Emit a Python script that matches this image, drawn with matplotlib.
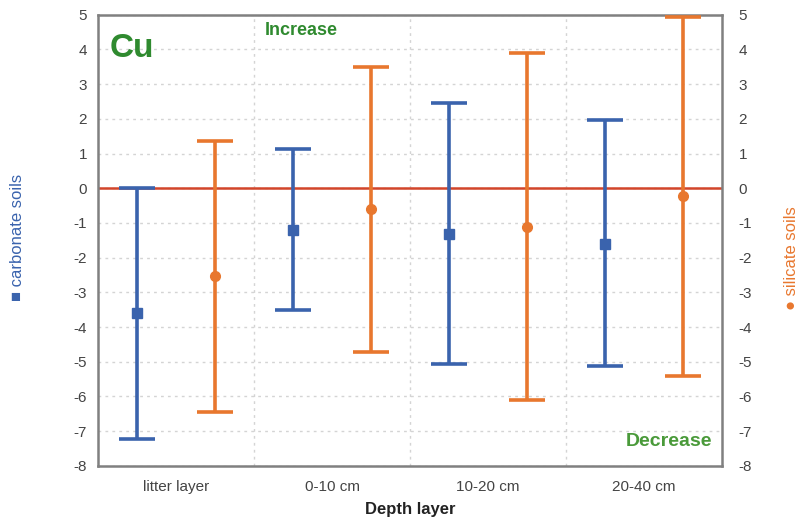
import numpy as np
import matplotlib.pyplot as plt

plt.rcParams['font.family'] = ['Liberation Sans Narrow', 'Liberation Sans', 'DejaVu Sans']

# === data ===
layers = ["litter layer", "0-10 cm", "10-20 cm", "20-40 cm"]

carb_mean = [-3.6, -1.2, -1.33, -1.6]
carb_low = [-7.24, -3.5, -5.05, -5.13]
carb_high = [0.0, 1.12, 2.45, 1.96]

sil_mean = [-2.53, -0.6, -1.12, -0.23]
sil_low = [-6.45, -4.72, -6.11, -5.4]
sil_high = [1.36, 3.49, 3.89, 4.93]

yticks = list(range(-8, 6))

blue = "#3a63ad"
orange = "#e8772e"
green = "#2f8a2f"
tick_col = "#444444"

fig = plt.figure(figsize=(8.04, 5.27), dpi=100)
ax = fig.add_axes([0.122, 0.116, 0.776, 0.856])

x = np.arange(len(layers)) + 0.5
off = 0.25

def draw(xs, mean, low, high, color, marker, ms):
    mean = np.array(mean)
    err = [mean - np.array(low), np.array(high) - mean]
    ax.errorbar(xs, mean, yerr=err, fmt=marker, color=color, ecolor=color,
                elinewidth=2.6, capsize=13, capthick=2.6, ms=ms, zorder=3)

draw(x - off, carb_mean, carb_low, carb_high, blue, "s", 7)
draw(x + off, sil_mean, sil_low, sil_high, orange, "o", 7)

ax.axhline(0, color="#d2452a", lw=1.8, zorder=2)

ax.set_xlim(0, 4)
ax.set_ylim(-8, 5)
ax.set_yticks(yticks)
ax.set_yticklabels([str(v) for v in yticks])
ax.set_xticks(x)
ax.set_xticklabels(layers)
ax.set_xticks([1, 2, 3], minor=True)
ax.tick_params(which="both", length=0)
ax.tick_params(axis="y", labelsize=11, colors=tick_col, pad=8)
ax.tick_params(axis="x", labelsize=11, colors=tick_col, pad=10)
ax.grid(axis="y", which="major", color="#d4d4d4", ls=(0, (2, 3)), lw=1)
ax.grid(axis="x", which="minor", color="#d4d4d4", ls=(0, (2, 3)), lw=1)
for s in ax.spines.values():
    s.set_color("#808080")
    s.set_linewidth(1.8)

ax2 = ax.twinx()
ax2.set_ylim(-8, 5)
ax2.set_yticks(yticks)
ax2.set_yticklabels([str(v) for v in yticks])
ax2.tick_params(length=0, labelsize=11, colors=tick_col, pad=12)
for s in ax2.spines.values():
    s.set_visible(False)

ax.set_xlabel("Depth layer", fontsize=12, fontweight="bold", color="#222222", labelpad=6)

fig.text(0.022, 0.55, "\u25a0 carbonate soils", rotation=90, color=blue,
         fontsize=12, ha="center", va="center")
fig.text(0.985, 0.51, "\u25cf silicate soils", rotation=90, color=orange,
         fontsize=12, ha="center", va="center")

ax.text(0.018, 0.925, "Cu", transform=ax.transAxes, fontsize=24, fontweight="bold",
        color=green, ha="left", va="center")
ax.text(1.3, 4.55, "Increase", fontsize=13, fontweight="bold", color=green,
        ha="center", va="center")
ax.text(3.94, -7.3, "Decrease", fontsize=14, fontweight="bold", color="#4a9a3a",
        ha="right", va="center")

fig.savefig("out.png", dpi=100)
